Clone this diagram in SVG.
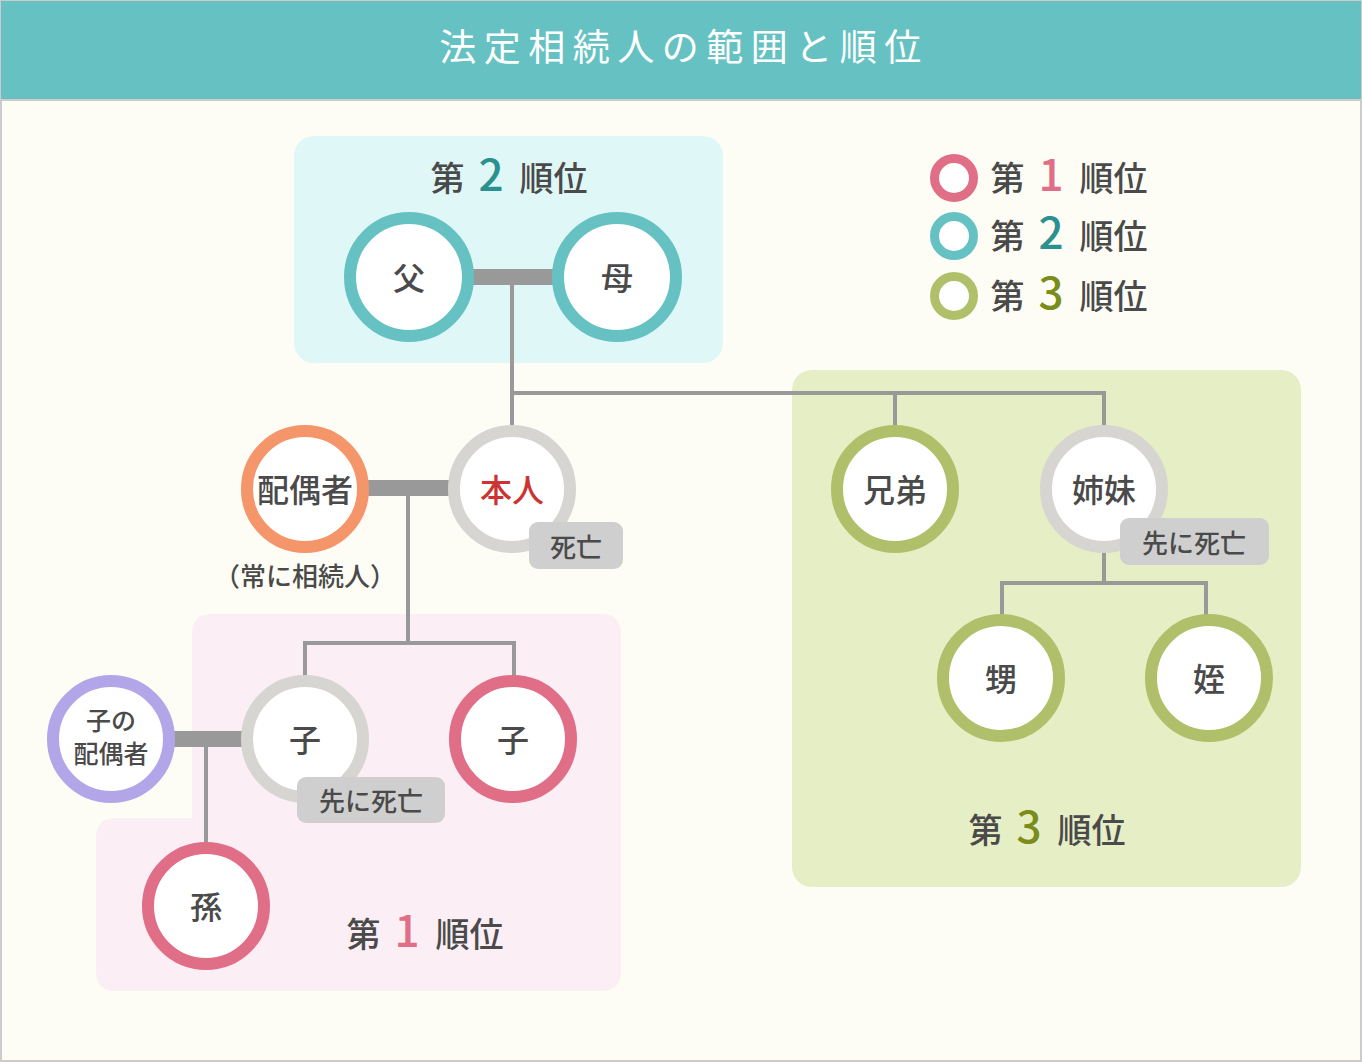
<svg xmlns="http://www.w3.org/2000/svg" width="1362" height="1062" viewBox="0 0 1362 1062">
<style>
text{font-family:"Noto Sans CJK JP","Noto Sans",sans-serif;fill:#4a4a4a;text-anchor:middle;font-weight:500}
.nd{font-size:32px;dominant-baseline:central}
.rk{font-size:34px}
.num{font-size:44px}
.n1{fill:#e06e87}.n2{fill:#2a9090}.n3{fill:#7a8c1a}
.c1{fill:#fff;stroke:#e06e87;stroke-width:12}
.c2{fill:#fff;stroke:#66c2c2;stroke-width:12}
.c3{fill:#fff;stroke:#b0c06a;stroke-width:12}
.cd{fill:#fff;stroke:#d6d5d1;stroke-width:12}
.bar{stroke:#999;stroke-width:16;fill:none}
.ln{stroke:#999;stroke-width:4;fill:none}
.bd{fill:#d0cfcf}
.bt{font-size:26px;dominant-baseline:central}
</style>
<rect x="1" y="1" width="1360" height="1060" fill="#fdfdf5" stroke="#cccccc" stroke-width="2"/>
<g id="header">
<rect x="1" y="1" width="1360" height="99" fill="#66c2c2"/>
<line x1="1" y1="100" x2="1361" y2="100" stroke="#cccccc" stroke-width="2"/>
<text x="684" y="61" style="font-size:37px;fill:#fff;letter-spacing:7.5px;font-weight:400">法定相続人の範囲と順位</text>
</g>
<g id="panels">
<rect x="294" y="136" width="429" height="227" rx="20" fill="#e0f7f7"/>
<path d="M212 614 H601 Q621 614 621 634 V971 Q621 991 601 991 H116 Q96 991 96 971 V838 Q96 818 116 818 H192 V634 Q192 614 212 614 Z" fill="#fbeef4"/>
<rect x="792" y="370" width="509" height="517" rx="20" fill="#e6eec6"/>
</g>
<g id="rank-labels">
<text x="509" y="191"><tspan class="rk">第</tspan><tspan class="num n2" dx="14">2</tspan><tspan class="rk" dx="16">順位</tspan></text>
<text x="425" y="947"><tspan class="rk">第</tspan><tspan class="num n1" dx="14">1</tspan><tspan class="rk" dx="16">順位</tspan></text>
<text x="1047" y="843"><tspan class="rk">第</tspan><tspan class="num n3" dx="14">3</tspan><tspan class="rk" dx="16">順位</tspan></text>
</g>
<g id="legend">
<circle cx="954" cy="178" r="19.5" fill="#fff" stroke="#e06e87" stroke-width="9"/>
<circle cx="954" cy="236" r="19.5" fill="#fff" stroke="#66c2c2" stroke-width="9"/>
<circle cx="954" cy="296" r="19.5" fill="#fff" stroke="#b0c06a" stroke-width="9"/>
<text x="1069" y="191"><tspan class="rk">第</tspan><tspan class="num n1" dx="14">1</tspan><tspan class="rk" dx="16">順位</tspan></text>
<text x="1069" y="249"><tspan class="rk">第</tspan><tspan class="num n2" dx="14">2</tspan><tspan class="rk" dx="16">順位</tspan></text>
<text x="1069" y="309"><tspan class="rk">第</tspan><tspan class="num n3" dx="14">3</tspan><tspan class="rk" dx="16">順位</tspan></text>
</g>
<g id="connectors">
<line class="bar" x1="470" y1="277" x2="557" y2="277"/>
<polyline class="ln" points="512,285 512,427"/>
<polyline class="ln" points="512,393 1104,393 1104,427"/>
<polyline class="ln" points="895,393 895,427"/>
<line class="bar" x1="365" y1="488" x2="452" y2="488"/>
<polyline class="ln" points="408,496 408,643"/>
<polyline class="ln" points="305,677 305,643 514,643 514,677"/>
<line class="bar" x1="171" y1="739" x2="245" y2="739"/>
<polyline class="ln" points="206,747 206,845"/>
<polyline class="ln" points="1104,551 1104,583"/>
<polyline class="ln" points="1002,617 1002,583 1206,583 1206,617"/>
</g>
<g id="node-father"><circle class="c2" cx="409" cy="277" r="59"/><text class="nd" x="409" y="276">父</text></g>
<g id="node-mother"><circle class="c2" cx="617" cy="277" r="59"/><text class="nd" x="617" y="276">母</text></g>
<g id="node-self"><circle class="cd" cx="512" cy="489" r="58"/><text class="nd" x="512" y="488" style="fill:#cc3333">本人</text>
<rect class="bd" x="529" y="522" width="94" height="47" rx="9"/><text class="bt" x="576" y="545">死亡</text></g>
<g id="node-spouse"><circle class="c1" cx="305" cy="489" r="58" style="stroke:#f4956a"/><text class="nd" x="305" y="488">配偶者</text>
<text x="305" y="574" style="font-size:26px;dominant-baseline:central">（常に相続人）</text></g>
<g id="node-child-dead"><circle class="cd" cx="305" cy="739" r="58"/><text class="nd" x="305" y="738">子</text>
<rect class="bd" x="297" y="777" width="148" height="46" rx="9"/><text class="bt" x="371" y="799">先に死亡</text></g>
<g id="node-child"><circle class="c1" cx="513" cy="739" r="58"/><text class="nd" x="513" y="738">子</text></g>
<g id="node-child-spouse"><circle class="c1" cx="111" cy="739" r="58" style="stroke:#b3a6e8"/>
<text x="111" y="719" style="font-size:25px;dominant-baseline:central">子の</text>
<text x="111" y="752" style="font-size:25px;dominant-baseline:central">配偶者</text></g>
<g id="node-grandchild"><circle class="c1" cx="206" cy="906" r="58"/><text class="nd" x="206" y="905">孫</text></g>
<g id="node-brothers"><circle class="c3" cx="895" cy="489" r="58"/><text class="nd" x="895" y="488">兄弟</text></g>
<g id="node-sisters"><circle class="cd" cx="1104" cy="489" r="58"/><text class="nd" x="1104" y="488">姉妹</text>
<rect class="bd" x="1120" y="518" width="149" height="47" rx="9"/><text class="bt" x="1194" y="541">先に死亡</text></g>
<g id="node-nephew"><circle class="c3" cx="1001" cy="678" r="58"/><text class="nd" x="1001" y="677">甥</text></g>
<g id="node-niece"><circle class="c3" cx="1209" cy="678" r="58"/><text class="nd" x="1209" y="677">姪</text></g>
</svg>
